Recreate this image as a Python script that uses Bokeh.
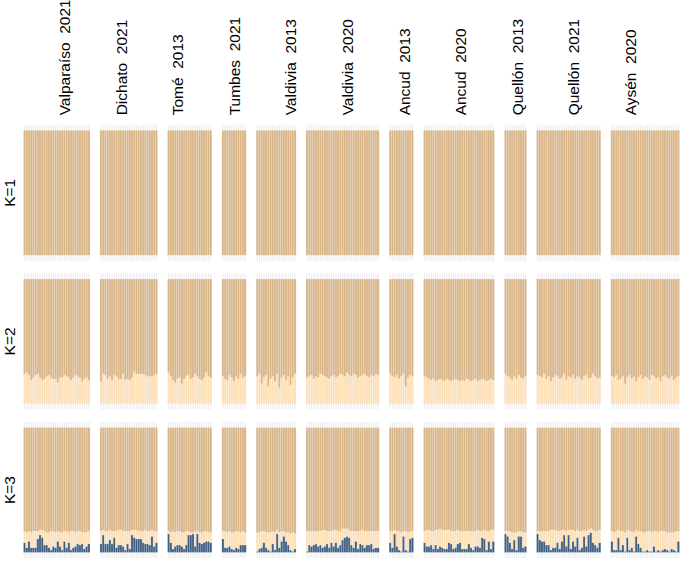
import numpy as np
from bokeh.plotting import figure
from bokeh.models import ColumnDataSource, Range1d
from bokeh.core.properties import value
from bokeh.embed import file_html
from bokeh.resources import INLINE

populations = ["Valparaíso\u00a0 2021", "Dichato\u00a0 2021", "Tomé\u00a0 2013", "Tumbes\u00a0 2021",
               "Valdivia\u00a0 2013", "Valdivia\u00a0 2020", "Ancud\u00a0 2013", "Ancud\u00a0 2020",
               "Quellón\u00a0 2013", "Quellón\u00a0 2021", "Aysén\u00a0 2020"]
k_labels = ["K=1", "K=2", "K=3"]

# K=2: membership (%) in the light cluster, per individual
k2_light = [
    [24,25,23,19,21,23,24,21,19,20,22,23,21,20,20,17,21,21,23,22,21,19,21,23,22,21,18,20,21,19],
    [18,24,23,20,22,19,23,22,20,20,24,19,20,19,21,26,24,24,24,24,23,22,22,22,23,24],
    [25,22,19,17,20,21,16,20,22,23,20,21,24,22,20,19,21,25,22,21],
    [22,20,19,23,21,18,22,20,24,21,22],
    [22,24,16,21,23,14,20,22,18,24,13,21,23,19,22,15,21,24],
    [21,22,23,20,22,21,24,23,22,21,20,22,23,21,22,24,23,22,25,23,22,24,23,21,22,23,24,22,21,23,22,24,23],
    [24,22,21,23,20,22,24,14,21,23,22],
    [22,21,20,19,20,18,19,20,19,18,20,19,18,19,20,19,18,19,18,20,19,18,19,20,18,19,20,19,18,19,20,19],
    [24,22,21,19,22,20,23,21,20,22],
    [23,22,21,24,20,22,18,21,23,22,20,21,24,19,22,21,23,20,22,21,19,22,23,20,21,24,22,20,21],
    [22,21,23,19,20,22,16,21,23,20,22,18,21,23,20,22,21,19,23,22,20,21,18,22,23,21,20,22,19,21,22],
]

# K=3: membership (%) in the dark cluster, per individual
k3_dark = [
    [8,4,9,4,4,4,11,14,12,6,6,4,2,5,4,9,5,2,9,4,8,2,4,5,7,6,7,3,5,7],
    [7,14,7,7,10,7,12,4,6,6,5,2,7,3,14,12,11,11,11,8,7,7,6,13,5,8],
    [15,8,3,5,6,6,5,3,6,14,14,15,5,15,8,7,8,9,9,8],
    [11,4,4,5,3,2,4,3,6,6,6],
    [1,3,4,8,4,2,1,7,2,15,4,9,13,9,6,2,1,3],
    [1,6,5,6,7,5,6,4,5,7,4,8,5,8,4,6,10,12,13,12,6,4,9,3,7,6,4,6,6,7,3,4,4],
    [8,4,15,5,2,1,13,2,1,11,12],
    [8,5,5,6,3,6,3,5,4,3,3,8,7,3,4,7,8,3,3,3,7,4,2,5,5,4,12,11,2,9,3,9],
    [15,13,8,3,10,2,13,13,4,5],
    [15,10,9,9,6,6,2,4,4,8,3,9,14,5,14,3,9,5,12,2,4,13,5,14,16,8,6,4,8],
    [9,2,2,12,2,6,1,12,2,4,1,13,7,4,1,1,2,1,1,5,1,2,1,2,3,2,1,3,2,1,9],
]

# K=3: cumulative membership (%) of dark + light clusters, per individual
k3_dark_plus_light = [
    [17,16,17,16,17,17,17,18,18,17,16,16,17,17,16,17,16,16,17,17,16,17,17,16,17,17,16,16,16,17],
    [17,18,17,17,18,17,17,17,18,18,17,17,17,17,18,18,18,17,17,17,18,17,17,18,17,17],
    [17,16,17,16,17,17,16,16,17,17,16,16,17,17,16,16,17,17,16,16],
    [17,17,16,17,16,16,17,17,16,17,16],
    [16,16,17,17,16,16,16,17,16,18,16,17,17,16,16,15,16,15],
    [17,17,17,17,17,17,17,18,18,17,17,17,18,18,17,17,19,19,19,18,17,17,17,17,17,18,17,17,17,17,17,17,17],
    [17,17,18,17,17,16,17,17,16,17,17],
    [17,18,18,17,17,18,18,19,18,18,18,18,17,17,17,18,17,17,17,17,17,17,17,17,18,17,17,18,17,17,18,18],
    [17,17,17,16,16,16,17,17,16,16],
    [17,17,17,17,17,17,18,18,18,17,17,18,18,17,18,18,18,17,18,17,17,18,17,18,19,18,17,17,18],
    [17,16,17,18,17,17,16,18,17,17,16,18,17,17,16,16,17,17,16,17,17,16,17,17,17,16,16,16,16,17,17],
]

TAN = "#D8B486"
PEACH = "#FDDFB6"
NAVY = "#3B5D82"

GAP = 4.5          # gap between population panels (in individual units)
ROW_STEP = 1.19    # vertical step between K rows
row_base = {1: 2 * ROW_STEP, 2: ROW_STEP, 3: 0.0}

xs, bottoms, tops, colors = [], [], [], []
tick_x = []
offset = 0.0
for pi, light in enumerate(k2_light):
    n = len(light)
    for j in range(n):
        cx = offset + j + 0.5
        tick_x.append(cx)
        b = row_base[1]
        xs.append(cx); bottoms.append(b); tops.append(b + 1.0); colors.append(TAN)
        b = row_base[2]
        f = light[j] / 100.0
        xs.append(cx); bottoms.append(b); tops.append(b + f); colors.append(PEACH)
        xs.append(cx); bottoms.append(b + f); tops.append(b + 1.0); colors.append(TAN)
        b = row_base[3]
        d = k3_dark[pi][j] / 100.0
        dl = k3_dark_plus_light[pi][j] / 100.0
        xs.append(cx); bottoms.append(b); tops.append(b + d); colors.append(NAVY)
        xs.append(cx); bottoms.append(b + d); tops.append(b + dl); colors.append(PEACH)
        xs.append(cx); bottoms.append(b + dl); tops.append(b + 1.0); colors.append(TAN)
    offset += n + GAP

W, H = 685, 561
px_per_x = 2.2162
x_start = -23 / px_per_x
x_end = x_start + W / px_per_x
px_per_y = 124.9
y_start = -9 / px_per_y
y_end = y_start + H / px_per_y

p = figure(width=W, height=H, output_backend="svg", toolbar_location=None,
           x_range=Range1d(x_start, x_end), y_range=Range1d(y_start, y_end),
           x_axis_type=None, y_axis_type=None, min_border=0)
p.grid.visible = False
p.outline_line_color = None
p.background_fill_color = "white"
p.border_fill_color = "white"

src = ColumnDataSource(dict(x=xs, bottom=bottoms, top=tops, color=colors))
p.vbar(x="x", bottom="bottom", top="top", width=1.0, source=src,
       fill_color="color", line_color="white", line_alpha=0.3, line_width=0.6)

tick_len = 0.045
tx0, ty0, tx1, ty1 = [], [], [], []
for k in (1, 2, 3):
    b = row_base[k]
    for cx in tick_x:
        tx0.append(cx); ty0.append(b + 1.0); tx1.append(cx); ty1.append(b + 1.0 + tick_len)
        tx0.append(cx); ty0.append(b - tick_len); tx1.append(cx); ty1.append(b)
p.segment(x0=tx0, y0=ty0, x1=tx1, y1=ty1, line_color="#E2E2E2", line_width=0.7)

lab_start, lab_step = 18.5, 25.54
lab_x = [lab_start + i * lab_step for i in range(len(populations))]
p.text(x=lab_x, y=[row_base[1] + 1.0 + 0.12] * len(populations), text=populations,
       angle=np.pi / 2, text_align="left", text_baseline="middle",
       text_font=value("Liberation Sans"), text_font_size="15.5px", text_color="black")

p.text(x=[-6.3] * 3, y=[row_base[k] + 0.5 for k in (1, 2, 3)], text=k_labels,
       angle=np.pi / 2, text_align="center", text_baseline="middle",
       text_font=value("Liberation Sans"), text_font_size="15.5px", text_color="black")

open("out.html", "w").write(file_html(p, INLINE))
